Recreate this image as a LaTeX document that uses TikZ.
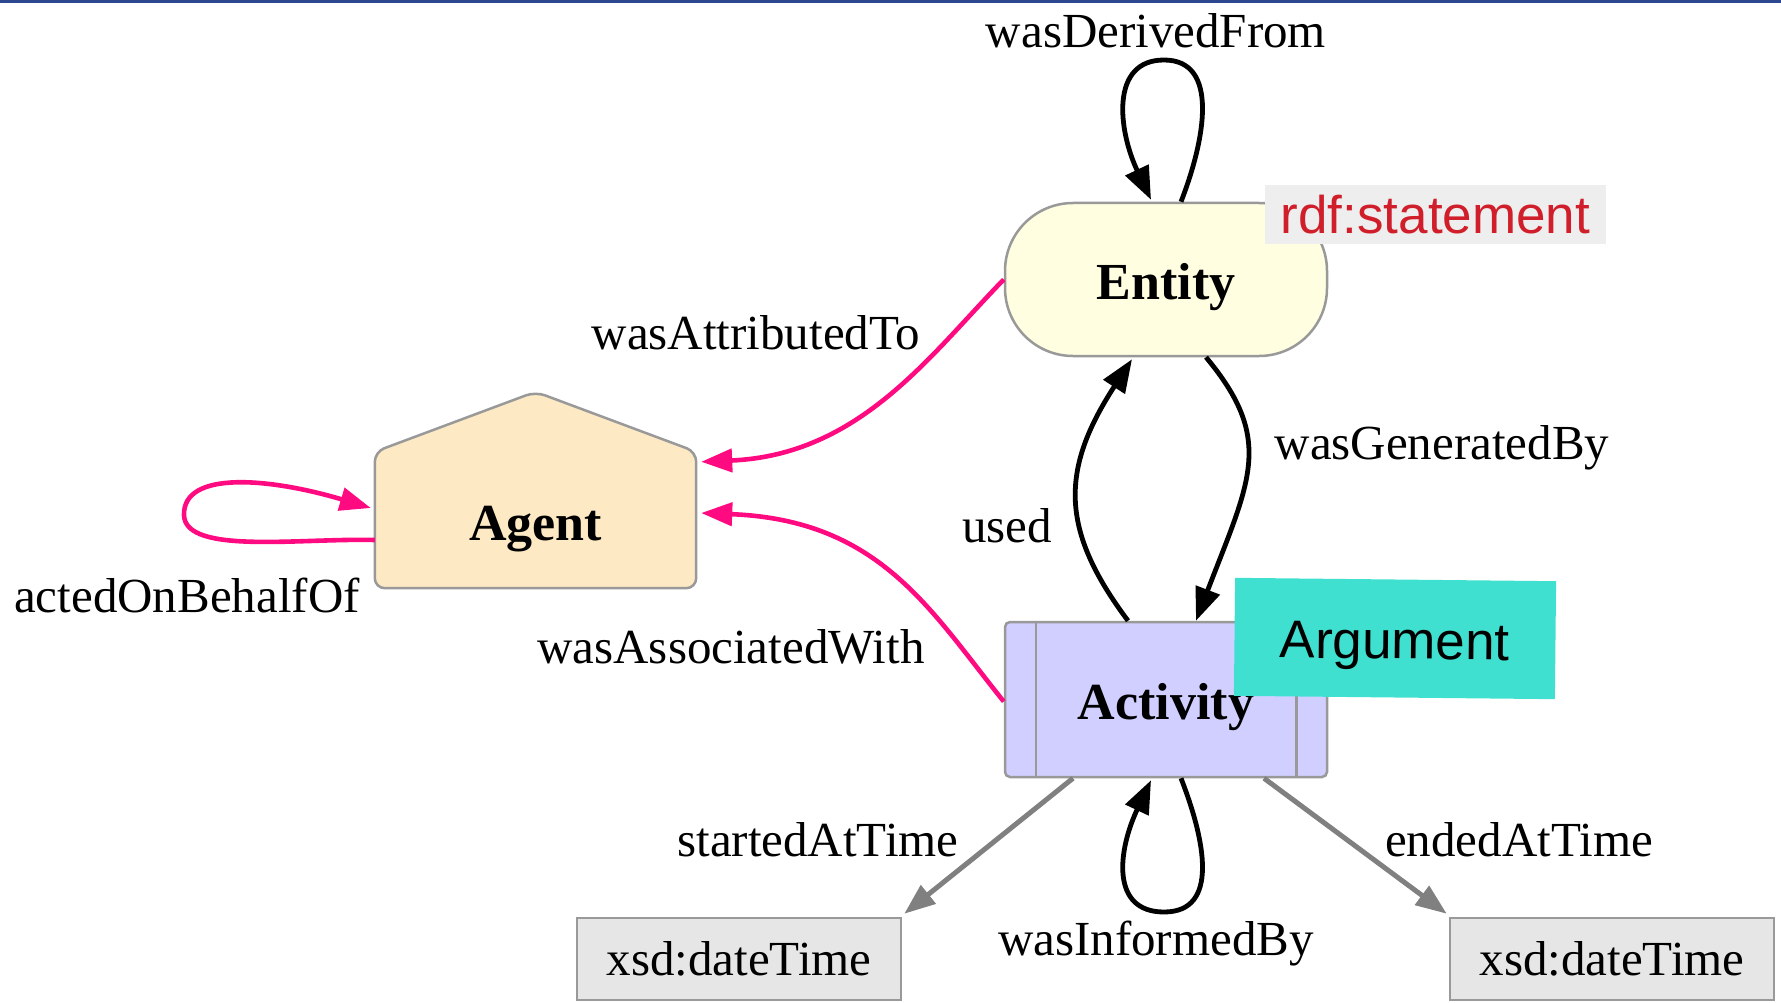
\documentclass[tikz,border=0pt]{standalone}
\usepackage{fontspec}
\setmainfont{Liberation Serif}
\newfontfamily\sansf{Liberation Sans}
\usetikzlibrary{arrows.meta,backgrounds,calc}
\definecolor{topblue}{HTML}{2C4690}
\definecolor{bordergray}{HTML}{999999}
\definecolor{entityfill}{HTML}{FFFEE0}
\definecolor{agentfill}{HTML}{FDE9C4}
\definecolor{actfill}{HTML}{D0CFFF}
\definecolor{xsdfill}{HTML}{E6E6E6}
\definecolor{rdffill}{HTML}{EEEEEE}
\definecolor{rdftext}{HTML}{D01F2A}
\definecolor{argfill}{HTML}{40E0D0}
\definecolor{pinkedge}{HTML}{FF0A80}
\definecolor{grayedge}{HTML}{808080}
\begin{document}
\begin{tikzpicture}[x=1pt,y=-1pt,
  lbl/.style={font=\fontsize{49}{56}\selectfont, inner sep=0pt, text height=40pt, text depth=7pt},
  nodelbl/.style={font=\fontsize{52}{60}\selectfont\bfseries, inner sep=0pt, text height=42pt, text depth=2pt},
  entitybox/.style={nodelbl, draw=bordergray, line width=2.5pt, fill=entityfill, rounded corners=68pt, minimum width=322pt, minimum height=153pt},
  agentbox/.style={nodelbl, minimum width=321pt, minimum height=136pt},
  agentshape/.style={draw=bordergray, line width=2.5pt, fill=agentfill, rounded corners=10pt},
  actbox/.style={nodelbl, draw=bordergray, line width=2.5pt, fill=actfill, rounded corners=5pt, minimum width=322pt, minimum height=155pt},
  innerline/.style={draw=bordergray, line width=2.5pt},
  xsdbox/.style={font=\fontsize{49}{56}\selectfont, draw=bordergray, line width=2.5pt, fill=xsdfill, minimum width=324pt, minimum height=82pt, inner sep=0pt},
  rdfbox/.style={font=\sansf\fontsize{53}{60}\selectfont, text=rdftext, fill=rdffill, minimum width=341pt, minimum height=59pt, inner sep=0pt},
  argbox/.style={font=\sansf\fontsize{53}{60}\selectfont, fill=argfill, minimum width=321pt, minimum height=118pt, inner sep=0pt, text height=44pt, text depth=3pt},
  blk/.style={draw=black, line width=4.8pt, -{Triangle[length=33pt,width=25pt]}},
  pnk/.style={draw=pinkedge, line width=4.6pt, -{Triangle[length=31pt,width=23pt]}},
  gry/.style={draw=grayedge, line width=5pt, -{Triangle[length=31pt,width=23pt]}}
]
\useasboundingbox (0,0) rectangle (1781,1003);
\fill[topblue] (0,0) rectangle (1781,3);

% nodes
\node[entitybox] (entity) at (1166,279.5) {Entity};
\node[agentbox] (agent) at (535.5,520) {Agent};
\begin{pgfonlayer}{background}
\filldraw[agentshape] (agent.south west) -- (agent.north west) -- ($(agent.north)+(0,-60)$) -- (agent.north east) -- (agent.south east) -- cycle;
\end{pgfonlayer}
\node[actbox] (activity) at (1166,699.5) {Activity};
\draw[innerline] ([xshift=32pt]activity.north west) -- ([xshift=32pt]activity.south west);
\draw[innerline] ([xshift=-32pt]activity.north east) -- ([xshift=-32pt]activity.south east);
\node[xsdbox] (xsd1) at (739,959) {xsd:dateTime};
\node[xsdbox] (xsd2) at (1612,959) {xsd:dateTime};

% edges
\draw[blk] ($(entity.north)+(15,0)$) .. controls (1205,140) and (1220,60) .. (1164,60)
  .. controls (1110,60) and (1118,130) .. ($(entity.north)+(-15,-2)$);
\draw[blk] ($(entity.south)+(40,0)$) .. controls (1275,440) and (1250,480) .. ($(activity.north)+(30,0)$);
\draw[blk] ($(activity.north)+(-38,0)$) .. controls (1060,530) and (1060,470) .. ($(entity.south)+(-34,2)$);
\draw[blk] ($(activity.south)+(15,0)$) .. controls (1205,840) and (1220,912) .. (1164,912)
  .. controls (1110,912) and (1118,850) .. ($(activity.south)+(-15,2)$);
\draw[pnk] (entity.west) .. controls (930,355) and (860,455) .. ($(agent.north east)+(5,10)$);
\draw[pnk] ($(activity.west)+(0,2)$) .. controls (930,610) and (880,520) .. ($(agent.east)+(5,-7)$);
\draw[pnk] ($(agent.west)+(0,20)$) .. controls (300,538) and (185,555) .. (184,515)
  .. controls (183,470) and (270,478) .. ($(agent.west)+(-4,-12)$);
\draw[gry] ($(activity.south)+(-93,0)$) -- ($(xsd1.north east)+(2,-3)$);
\draw[gry] ($(activity.south)+(98,0)$) -- ($(xsd2.north west)+(-2,-3)$);

% labels
\node[lbl] (l1) at (1156,31) {wasDerivedFrom};
\node[lbl] (l2) at (1442,443) {wasGeneratedBy};
\node[lbl] (l3) at (1007,526) {used};
\node[lbl] (l4) at (756,333) {wasAttributedTo};
\node[lbl] (l5) at (731,647) {wasAssociatedWith};
\node[lbl] (l6) at (187,596) {actedOnBehalfOf};
\node[lbl] (l7) at (818,840) {startedAtTime};
\node[lbl] (l8) at (1519,840) {endedAtTime};
\node[lbl] (l9) at (1156,939) {wasInformedBy};

% overlays
\node[rdfbox] (rdf) at (1435.5,214.5) {rdf:statement};
\node[argbox, rotate=-0.6] (arg) at (1395,638.5) {Argument};
\end{tikzpicture}
\end{document}
